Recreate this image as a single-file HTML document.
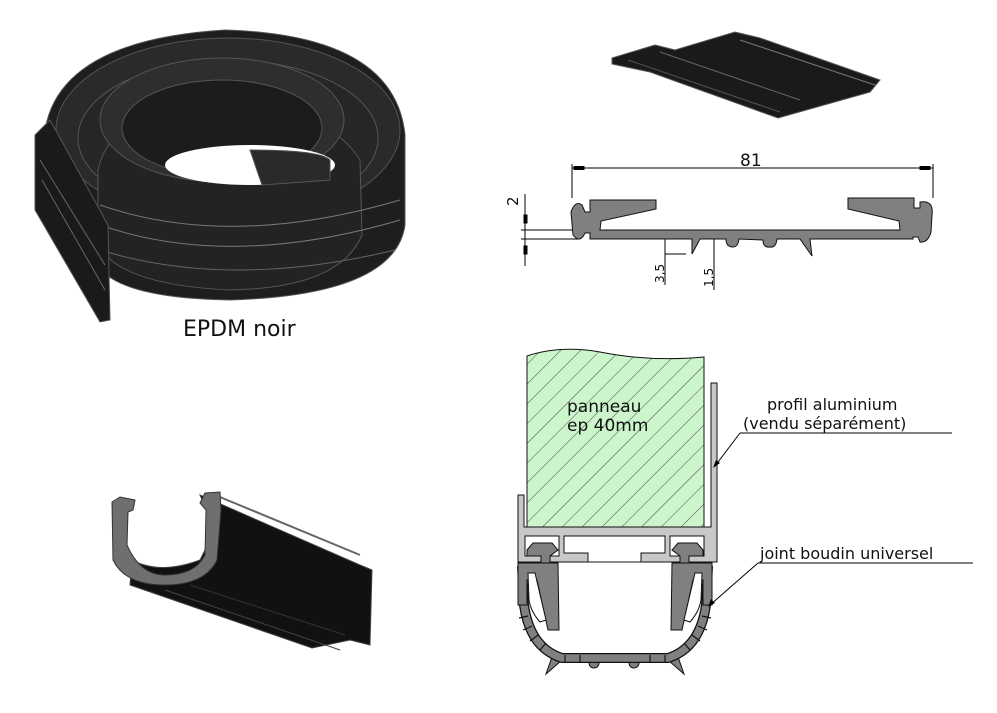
<!DOCTYPE html>
<html><head><meta charset="utf-8"><style>
html,body{margin:0;padding:0;background:#fff}
svg{display:block}
text{font-family:"DejaVu Sans","Liberation Sans",sans-serif}
</style></head><body>
<svg width="997" height="713" viewBox="0 0 997 713" xmlns="http://www.w3.org/2000/svg">
<defs>
<pattern id="hatch" width="14" height="14" patternUnits="userSpaceOnUse" patternTransform="rotate(45)">
<rect width="14" height="14" fill="#ccf5cc"/><line x1="0" y1="0" x2="0" y2="14" stroke="#222" stroke-width="0.8"/>
</pattern>
</defs>

<!-- Coil -->
<g stroke="#555" stroke-width="1">
<path d="M45,130 Q60,40 225,30 Q395,35 405,135 L405,225 Q395,295 230,300 Q110,298 95,260 Z" fill="#1e1e1e"/>
<ellipse cx="228" cy="130" rx="172" ry="92" fill="#2a2a2a"/>
<ellipse cx="228" cy="138" rx="150" ry="78" fill="#262626"/>
<path d="M98,170 Q110,110 220,100 Q330,110 360,160 L362,235 Q340,288 230,290 Q120,285 98,245 Z" fill="#232323"/>
<ellipse cx="222" cy="120" rx="122" ry="62" fill="#2e2e2e"/>
<ellipse cx="222" cy="128" rx="100" ry="48" fill="#1c1c1c"/>
<ellipse cx="250" cy="165" rx="85" ry="20" fill="#fff" stroke="none"/>
<path d="M250,150 Q320,150 330,160 L330,180 L262,185 Z" fill="#2a2a2a"/>
<path d="M100,205 Q230,250 400,200" fill="none" stroke="#777"/>
<path d="M100,225 Q230,270 400,220" fill="none" stroke="#777"/>
<path d="M100,250 Q230,290 395,250" fill="none" stroke="#666"/>
<path d="M35,135 L50,120 L108,225 L110,320 L100,322 L35,210 Z" fill="#1a1a1a"/>
<path d="M42,180 L105,290" stroke="#666"/>
<path d="M40,160 L105,265" stroke="#666"/>
</g>
<text x="183" y="336" font-size="22" font-family="Liberation Sans" fill="#111">EPDM noir</text>

<!-- Top-right extrusion -->
<g stroke="#555" stroke-width="1">
<path d="M612,58 L655,45 L675,50 L735,32 L760,38 L880,80 L870,92 L778,118 L650,72 L612,64 Z" fill="#1a1a1a"/>
<path d="M628,60 L780,112" stroke="#555"/>
<path d="M660,52 L800,100" stroke="#666"/>
<path d="M740,40 L875,85" stroke="#777"/>
</g>

<!-- Profile section -->
<g stroke="#000" stroke-width="1" fill="none">
<line x1="572" y1="168" x2="933" y2="168"/>
<line x1="572" y1="164" x2="572" y2="198"/>
<line x1="933" y1="164" x2="933" y2="198"/>
<rect x="574" y="166.5" width="10" height="3" fill="#000"/>
<rect x="920" y="166.5" width="10" height="3" fill="#000"/>
<line x1="525" y1="194" x2="525" y2="266"/>
<line x1="521" y1="230" x2="597" y2="230"/>
<line x1="521" y1="239" x2="580" y2="239"/>
<rect x="524" y="215" width="3" height="8" fill="#000"/>
<rect x="524" y="246" width="3" height="8" fill="#000"/>
<line x1="665" y1="236" x2="665" y2="285"/>
<line x1="665" y1="254" x2="686" y2="254"/>
<line x1="714" y1="236" x2="714" y2="290"/>
</g>
<path fill="#808080" stroke="#111" stroke-width="1" d="M590,200 L656,200 L656,209 L601,221 L600,230 L900,230 L899,221 L848,209 L848,198 L914,198 L914,208 L920,208 L920,202 Q934,200 932,215 L931,232 Q928,243 920,242 L918,237 L913,237 L913,239 L810,239 L812,256 L800,239 L777,239 Q776,248 770,247 Q763,248 763,240 L739,239 Q738,247 733,247 Q726,247 726,239 L700,239 L692,254 L692,239 L590,239 L590,233 L585,233 Q580,244 573,235 L571,212 Q575,200 582,205 L585,212 L590,212 Z"/>
<text x="740" y="166" font-size="17" fill="#111">81</text>
<text transform="translate(518,206) rotate(-90)" font-size="15" fill="#111">2</text>
<text transform="translate(664,283) rotate(-90)" font-size="12" fill="#111">3,5</text>
<text transform="translate(713,287) rotate(-90)" font-size="12" fill="#111">1,5</text>

<!-- Bottom-left trough -->
<g stroke="#444" stroke-width="1">
<path d="M200,495 L360,565 L372,570 L370,645 L350,640 L312,648 L130,585 L132,560 Q160,575 200,560 L215,530 Z" fill="#111"/>
<path d="M215,495 L360,555" stroke="#666" stroke-width="2"/>
<path d="M165,590 L340,650" stroke="#444"/>
<path d="M190,585 L345,635" stroke="#333"/>
<path d="M112,502 L120,497 L135,500 L133,510 L128,512 L127,545 Q140,575 165,575 Q195,575 205,555 L206,510 L200,503 L205,493 L220,492 L221,510 L217,560 Q205,585 165,585 Q125,585 113,560 Z" fill="#6f6f6f" stroke="#333"/>
</g>

<!-- Assembly section -->
<path d="M527,356 Q560,345 600,352 Q650,362 704,357 L704,527 L527,527 Z" fill="url(#hatch)" stroke="#111"/>
<!-- aluminium profile -->
<g fill="#c8c8c8" stroke="#111" stroke-width="1">
<path d="M711,383 L717,383 L717,562 L518,562 L518,495 L524,495 L524,527 L711,527 Z"/>
</g>
<g fill="#fff" stroke="#111" stroke-width="1">
<rect x="525" y="536" width="34" height="20"/>
<rect x="670" y="536" width="34" height="20"/>
<path d="M564,536 L665,536 L665,553 L641,553 L641,562 L588,562 L588,553 L564,553 Z"/>
</g>
<g fill="#808080" stroke="#111" stroke-width="1">
<!-- T heads -->
<path d="M527,550 L533,543 L552,543 L558,550 L550,556 L550,563 L541,563 L541,556 L527,556 Z"/>
<path d="M703,550 L697,543 L678,543 L672,550 L680,556 L680,563 L689,563 L689,556 L703,556 Z"/>
<!-- fins and bumps -->
<path d="M553,654 L546,674 L562,660 Z"/>
<path d="M677,654 L684,674 L668,660 Z"/>
<circle cx="594" cy="663" r="5"/>
<circle cx="634" cy="663" r="5"/>
</g>
<!-- U band -->
<path d="M522,566 L524,605 Q530,648 562,658 L668,658 Q700,648 706,605 L708,566" fill="none" stroke="#111" stroke-width="10"/>
<path d="M522,566 L524,605 Q530,648 562,658 L668,658 Q700,648 706,605 L708,566" fill="none" stroke="#808080" stroke-width="7.5"/>
<g fill="#808080" stroke="#111" stroke-width="1">
<path d="M518,563 L558,563 L559,630 L548,630 L537,580 L527,580 L527,605 L518,605 Z"/>
<path d="M712,563 L672,563 L671,630 L682,630 L693,580 L703,580 L703,605 L712,605 Z"/>
</g>
<g fill="#fff" stroke="#111" stroke-width="1">
<path d="M528,573 L535,573 L546,620 L540,622 Q531,612 529,600 Z"/>
<path d="M702,573 L695,573 L684,620 L690,622 Q699,612 701,600 Z"/>
</g>
<g stroke="#111" stroke-width="1.2">
<line x1="519" y1="618" x2="528" y2="616"/>
<line x1="523" y1="630" x2="532" y2="626"/>
<line x1="530" y1="641" x2="538" y2="635"/>
<line x1="540" y1="650" x2="546" y2="643"/>
<line x1="565" y1="655" x2="565" y2="663"/>
<line x1="580" y1="655" x2="580" y2="663"/>
<line x1="650" y1="655" x2="650" y2="663"/>
<line x1="665" y1="655" x2="665" y2="663"/>
<line x1="690" y1="650" x2="684" y2="643"/>
<line x1="700" y1="641" x2="692" y2="635"/>
<line x1="707" y1="630" x2="698" y2="626"/>
<line x1="711" y1="618" x2="702" y2="616"/>
</g>
<g stroke="#000" stroke-width="1" fill="none">
<line x1="740" y1="433" x2="952" y2="433"/>
<line x1="740" y1="433" x2="715" y2="466"/>
<line x1="758" y1="563" x2="973" y2="563"/>
<line x1="758" y1="563" x2="710" y2="605"/>
</g>
<path d="M713,468 L716,460 L720,463 Z" fill="#000"/>
<path d="M708,607 L711,599 L715,603 Z" fill="#000"/>
<text x="567" y="412" font-size="17" fill="#111">panneau</text>
<text x="567" y="431" font-size="17" fill="#111">ep 40mm</text>
<text x="767" y="410" font-size="16" fill="#111">profil aluminium</text>
<text x="743" y="429" font-size="16" fill="#111">(vendu séparément)</text>
<text x="760" y="559" font-size="16" fill="#111">joint boudin universel</text>
</svg>
</body></html>
